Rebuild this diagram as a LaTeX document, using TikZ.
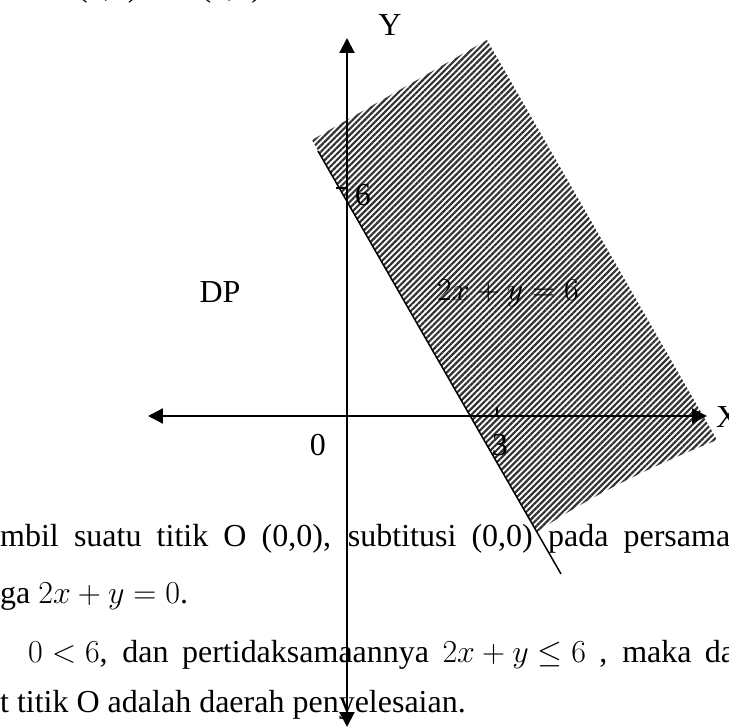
\RequirePackage{fix-cm}
\documentclass[tikz,border=0pt]{standalone}
\usepackage{fontspec}
\setmainfont{Liberation Serif}
\usetikzlibrary{arrows.meta,patterns.meta}

\begin{document}
\begin{tikzpicture}[x=1pt,y=1pt,
  every node/.style={font=\fontsize{32}{38}\selectfont},
  axis/.style={line width=2.2pt,{Triangle[length=15pt,width=15pt]}-{Triangle[length=15pt,width=15pt]}},
  lbl/.style={inner sep=0pt},
  txt/.style={anchor=base west,inner sep=0pt}]
\useasboundingbox (-347,-312) rectangle (382,416);
% daerah arsiran
\fill[pattern={Lines[angle=45,distance=4.3pt,line width=2.2pt]},pattern color=black!80]
  (-35,276) -- (140,376) -- (370,-24) .. controls (300,-52) and (240,-82) .. (190,-116) -- cycle;
% sumbu
\coordinate (xkiri) at (-199,0);
\coordinate (xkanan) at (360,0);
\coordinate (yatas) at (0,378);
\coordinate (ybawah) at (0,-311);
\draw[axis] (xkiri) -- (xkanan);
\draw[axis] (ybawah) -- (yatas);
\node[lbl] (ylab) at (43,391) {Y};
\node[lbl,anchor=west] (xlab) at (369,-1) {X};
\node[lbl] (nol) at (-29,-29) {0};
% titik potong
\coordinate (t6) at (0,228);
\coordinate (t3) at (150,0);
\draw[line width=1.3pt] (t6) -- ++(-11,0);
\draw[line width=1.3pt] (t3) -- ++(0,9);
\node[lbl] (enam) at (16,221) {6};
\node[lbl] (tiga) at (153,-29) {3};
% garis 2x+y=6
\coordinate (gatas) at (-29,265);
\coordinate (gbawah) at (214,-158);
\draw[line width=1.5pt] (gatas) -- (gbawah);
\node[lbl] (dp) at (-127,124) {DP};
\node[lbl] (persm) at (161,123) {$2x+y=6$};
% teks di sekitar grafik
\node[txt] (b0) at (-270,419) {(3,0) dan (0,6)};
\node[txt] (b1) at (-347,-131) {\makebox[730pt][s]{mbil suatu titik O (0,0), subtitusi (0,0) pada persama}};
\node[txt] (b2) at (-347,-188) {ga $2x+y=0$.};
\node[txt] (b3) at (-319,-246) {\makebox[707pt][s]{\mbox{$0<6$}, dan pertidaksamaannya \mbox{$2x+y\le 6$} , maka da}};
\node[txt] (b4) at (-347,-296) {t titik O adalah daerah penyelesaian.};
\end{tikzpicture}
\end{document}
